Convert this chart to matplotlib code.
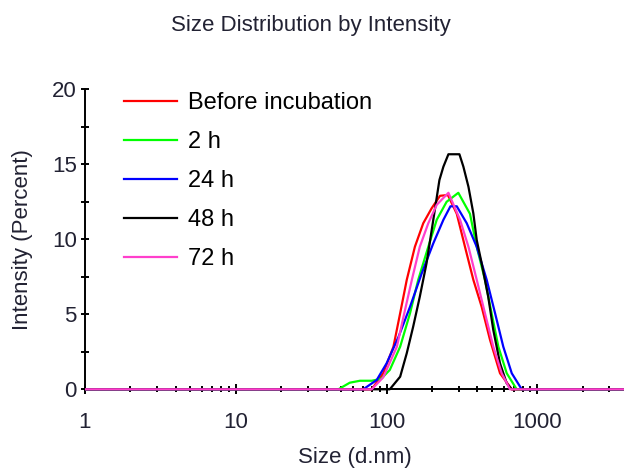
import matplotlib
matplotlib.use('Agg')
import matplotlib.pyplot as plt
import matplotlib.transforms as mtransforms
from matplotlib.ticker import MultipleLocator, LogLocator, FixedLocator, FixedFormatter

plt.rcParams['font.family'] = ['Liberation Sans', 'DejaVu Sans']

# size in d.nm / intensity in percent
red_x = [0.4, 79.7, 95, 111, 123, 136, 154, 175, 199, 226, 255, 292, 331, 376, 427, 485, 565, 676, 10000]
red_y = [0, 0, 1.07, 2.84, 5.07, 7.29, 9.5, 11.07, 12.07, 12.9, 12.95, 11.7, 9.5, 7.3, 5.5, 3.3, 1.07, 0, 0]

green_x = [0.4, 47.9, 57, 66.6, 79.7, 92, 105, 123, 143, 162, 189, 215, 250, 299, 357, 396, 449, 497, 551, 626, 729, 10000]
green_y = [0, 0, 0.44, 0.57, 0.57, 0.7, 1.29, 2.84, 5.07, 7.29, 9.5, 11.3, 12.5, 13.1, 11.7, 9.5, 7.3, 5.07, 2.84, 1.07, 0, 0]

blue_x = [0.4, 70, 86, 100, 120, 143, 171, 204, 238, 265, 292, 340, 396, 461, 524, 594, 676, 787, 10000]
blue_y = [0, 0, 0.62, 1.73, 3.5, 5.5, 7.73, 9.73, 11.3, 12.2, 12.2, 11.07, 9.5, 7.3, 5.07, 2.84, 1.07, 0, 0]

black_x = [0.4, 105, 123, 136, 150, 166, 184, 204, 224, 238, 257, 304, 323, 349, 376, 396, 427, 472, 510, 565, 626, 676, 10000]
black_y = [0, 0, 0.84, 2.4, 4.17, 6.17, 8.4, 11.3, 13.95, 14.84, 15.67, 15.67, 14.84, 13.5, 11.73, 9.95, 8.4, 6.17, 3.95, 1.73, 0.4, 0, 0]

pink_x = [0.4, 79.7, 95, 117, 131, 147, 166, 189, 215, 257, 307, 349, 396, 449, 510, 580, 658, 10000]
pink_y = [0, 0, 0.8, 2.84, 5.07, 7.29, 9.5, 11.07, 12.3, 13.1, 11.3, 9.5, 7.3, 5.07, 2.84, 1.07, 0, 0]

labels = ['Before incubation', '2 h', '24 h', '48 h', '72 h']
colors = ['#ff0000', '#00ff00', '#0000ff', '#000000', '#ff3fcc']
xticks = [1, 10, 100, 1000]
yticks = [0, 5, 10, 15, 20]

fig = plt.figure(figsize=(6.24, 4.71), dpi=100)
ax = fig.add_axes([85/624, 1 - 389.3/471, 1 - 85/624, 300/471])

series = [(red_x, red_y), (green_x, green_y), (blue_x, blue_y), (black_x, black_y), (pink_x, pink_y)]
clip = mtransforms.TransformedBbox(mtransforms.Bbox([[0, -0.05], [1, 1.05]]), ax.transAxes)
for (xs, ys), c, lab in zip(series, colors, labels):
    ln, = ax.plot(xs, ys, color=c, lw=1.6, label=lab, zorder=3)
    ln.set_clip_box(clip)

ax.set_xscale('log')
ax.set_xlim(1, 10 ** (539 / 150.8))
ax.set_ylim(0, 20)

ax.xaxis.set_major_locator(FixedLocator(xticks))
ax.xaxis.set_major_formatter(FixedFormatter([str(t) for t in xticks]))
ax.xaxis.set_minor_locator(LogLocator(base=10, subs=range(2, 10)))
ax.yaxis.set_major_locator(MultipleLocator(5))
ax.yaxis.set_minor_locator(MultipleLocator(2.5))
ax.set_yticks(yticks)

ax.spines['top'].set_visible(False)
ax.spines['right'].set_visible(False)
ax.spines['left'].set_linewidth(1.4)
ax.spines['bottom'].set_linewidth(1.4)

ax.tick_params(axis='x', which='major', direction='inout', length=7, width=1.4, pad=13, labelsize=16, labelcolor='#222233')
ax.tick_params(axis='x', which='minor', direction='inout', length=5, width=1.4)
ax.tick_params(axis='y', which='both', direction='inout', length=6, width=1.4, pad=3, labelsize=16, labelcolor='#222233')

ax.set_xlabel('Size (d.nm)', fontsize=16, color='#222233')
ax.xaxis.set_label_coords((355 - 85) / 539, (389.3 - 447) / 300)
ax.set_ylabel('Intensity (Percent)', fontsize=16, color='#222233')
ax.yaxis.set_label_coords((33 - 85) / 539, 0.5)

fig.text(311/624, 1 - 26/471, 'Size Distribution by Intensity', fontsize=16,
         ha='center', va='center', color='#222233')

ax.legend(loc='upper left', bbox_to_anchor=(124/624, 1 - 92/471), bbox_transform=fig.transFigure,
          frameon=False, fontsize=17, handlelength=2.25, handletextpad=0.47,
          labelspacing=0.72, borderpad=0, borderaxespad=0)

fig.savefig('out.png', dpi=100)
